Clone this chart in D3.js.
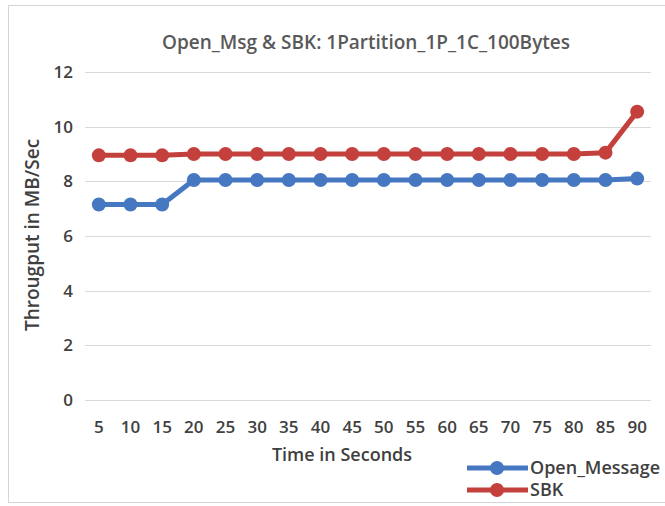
<!DOCTYPE html>
<html>
<head>
<meta charset="utf-8">
<script src="https://cdn.jsdelivr.net/npm/d3@7"></script>
<style>
  body { margin: 0; background: #fff; }
  svg { display: block; font-family: "Open Sans", "Liberation Sans", sans-serif; }
</style>
</head>
<body>
<svg id="chart" width="665" height="506"></svg>
<script>
// chart data
var seconds = [5, 10, 15, 20, 25, 30, 35, 40, 45, 50, 55, 60, 65, 70, 75, 80, 85, 90]
var openMessage = [7.15, 7.15, 7.15, 8.05, 8.05, 8.05, 8.05, 8.05, 8.05, 8.05, 8.05, 8.05, 8.05, 8.05, 8.05, 8.05, 8.05, 8.1]
var sbk = [8.95, 8.95, 8.95, 9.0, 9.0, 9.0, 9.0, 9.0, 9.0, 9.0, 9.0, 9.0, 9.0, 9.0, 9.0, 9.0, 9.05, 10.55]
var yTicks = [0, 2, 4, 6, 8, 10, 12]

var series = [
  { name: "Open_Message", values: openMessage, color: "#4677c1" },
  { name: "SBK", values: sbk, color: "#c4403d" }
]

var svg = d3.select("#chart")

// frame
svg.append("rect")
  .attr("x", 8.5).attr("y", 5.5)
  .attr("width", 680).attr("height", 497)
  .attr("fill", "none").attr("stroke", "#d4d4d4")

var plotLeft = 83, plotRight = 653, plotTop = 72, plotBottom = 400

var x = d3.scalePoint()
  .domain(seconds)
  .range([plotLeft, plotRight])
  .padding(0.5)

var y = d3.scaleLinear()
  .domain([0, 12])
  .range([plotBottom, plotTop])

// gridlines
svg.append("g").selectAll("line")
  .data(yTicks)
  .join("line")
  .attr("x1", 85).attr("x2", 651)
  .attr("y1", d => Math.round(y(d)) + 0.5)
  .attr("y2", d => Math.round(y(d)) + 0.5)
  .attr("stroke", "#d9d9d9")
  .attr("stroke-width", 1)

// y tick labels
svg.append("g").selectAll("text")
  .data(yTicks)
  .join("text")
  .attr("x", 73)
  .attr("y", d => y(d))
  .attr("dy", "0.35em")
  .attr("text-anchor", "end")
  .attr("font-size", 17)
  .attr("font-weight", 600)
  .attr("fill", "#404040")
  .text(d => d)

// x tick labels
svg.append("g").selectAll("text")
  .data(seconds)
  .join("text")
  .attr("x", d => x(d))
  .attr("y", 433)
  .attr("text-anchor", "middle")
  .attr("font-size", 17)
  .attr("font-weight", 600)
  .attr("fill", "#404040")
  .text(d => d)

// title
svg.append("text")
  .attr("x", 366).attr("y", 49)
  .attr("text-anchor", "middle")
  .attr("font-size", 19)
  .attr("font-weight", 600)
  .attr("fill", "#595959")
  .text("Open_Msg & SBK: 1Partition_1P_1C_100Bytes")

// axis titles
svg.append("text")
  .attr("x", 342).attr("y", 461)
  .attr("text-anchor", "middle")
  .attr("font-size", 18)
  .attr("font-weight", 600)
  .attr("fill", "#404040")
  .text("Time in Seconds")

svg.append("text")
  .attr("transform", "translate(39,235) rotate(-90)")
  .attr("text-anchor", "middle")
  .attr("font-size", 19)
  .attr("font-weight", 600)
  .attr("fill", "#404040")
  .text("Througput in MB/Sec")

// lines and markers
var line = d3.line()
  .x((d, i) => x(seconds[i]))
  .y(d => y(d))

series.forEach(function(s) {
  svg.append("path")
    .datum(s.values)
    .attr("d", line)
    .attr("fill", "none")
    .attr("stroke", s.color)
    .attr("stroke-width", 5)
    .attr("stroke-linejoin", "round")

  svg.append("g").selectAll("circle")
    .data(s.values)
    .join("circle")
    .attr("cx", (d, i) => x(seconds[i]))
    .attr("cy", d => y(d))
    .attr("r", 7)
    .attr("fill", s.color)
})

// legend
var legend = svg.append("g")
series.forEach(function(s, i) {
  var ly = 468 + i * 22
  legend.append("line")
    .attr("x1", 467).attr("x2", 528)
    .attr("y1", ly).attr("y2", ly)
    .attr("stroke", s.color).attr("stroke-width", 5)
  legend.append("circle")
    .attr("cx", 497).attr("cy", ly).attr("r", 7)
    .attr("fill", s.color)
  legend.append("text")
    .attr("x", 530).attr("y", ly)
    .attr("dy", "0.35em")
    .attr("font-size", 18)
    .attr("font-weight", 600)
    .attr("fill", "#404040")
    .text(s.name)
})
</script>
</body>
</html>
